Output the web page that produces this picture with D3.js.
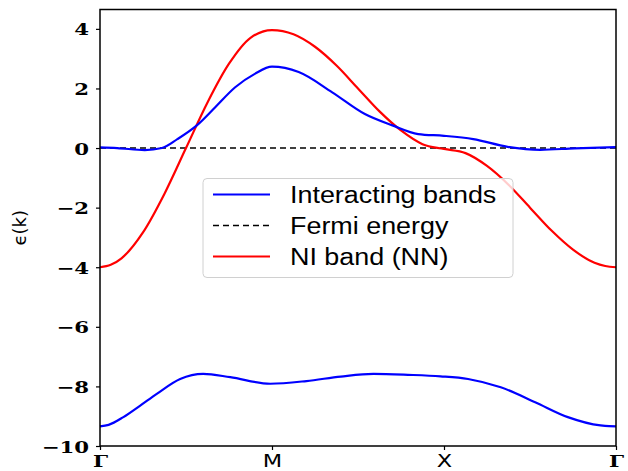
<!DOCTYPE html>
<html lang="en">
<head>
<meta charset="UTF-8">
<title>Band structure</title>
<style>
    body { margin: 0; background: #fff; }
    svg { display: block; }
    .tickLbl { font-family: "DejaVu Serif", serif; font-weight: bold; font-size: 17px; fill: #000; }
    .symLbl { font-family: "DejaVu Sans", sans-serif; font-size: 18px; fill: #000; }
    .legendTxt { font-family: "Liberation Sans", Arial, sans-serif; font-size: 23px; fill: #000; }
    .yTitle { font-family: "DejaVu Sans", sans-serif; font-size: 18px; fill: #000; }
</style>
<script src="https://cdn.jsdelivr.net/npm/d3@7"></script>
</head>
<body>
<script>
    // k-path position (0 = Γ, 1 = M, 2 = X, 3 = Γ) and energies
    const kUpper = [0, 0.1, 0.26, 0.36, 0.45, 0.563, 0.67, 0.786, 0.9, 1.0, 1.155, 1.35, 1.54, 1.70, 1.85, 2.0, 2.17, 2.37, 2.56, 2.76, 3.0];
    const eUpper = [0.02, 0.0, -0.07, 0.0, 0.3, 0.76, 1.37, 2.04, 2.49, 2.73, 2.55, 1.87, 1.14, 0.76, 0.47, 0.41, 0.3, 0.04, -0.06, -0.01, 0.03];

    const kLower = [0, 0.05, 0.136, 0.23, 0.33, 0.466, 0.60, 0.757, 0.99, 1.20, 1.40, 1.59, 1.79, 1.98, 2.14, 2.33, 2.53, 2.72, 2.91, 2.96, 3.0];
    const eLower = [-9.34, -9.29, -9.03, -8.66, -8.25, -7.75, -7.58, -7.69, -7.91, -7.82, -7.67, -7.58, -7.61, -7.66, -7.75, -8.03, -8.53, -9.03, -9.31, -9.335, -9.34];

    const kNI = [0, 0.0625, 0.125, 0.25, 0.375, 0.5, 0.625, 0.75, 0.875, 1.0, 1.125, 1.25, 1.375, 1.5, 1.625, 1.75, 1.875, 2.0, 2.125, 2.25, 2.375, 2.5, 2.625, 2.75, 2.875, 2.9375, 3.0];
    const eNI = [-4.0, -3.92, -3.70, -2.83, -1.53, 0.0, 1.53, 2.83, 3.70, 3.96, 3.82, 3.40, 2.77, 2.0, 1.23, 0.59, 0.13, -0.03, -0.17, -0.60, -1.23, -2.0, -2.77, -3.41, -3.85, -3.96, -4.0];

    const fermiLevel = 0;
    const symPoints = [0, 1, 2, 3];
    const symLabels = ["Γ", "M", "X", "Γ"];
    const yTicks = [-10, -8, -6, -4, -2, 0, 2, 4];
    const legendItems = [
        {title: "Interacting bands", color: "#0000ff", dash: null},
        {title: "Fermi energy", color: "#000000", dash: "6,4"},
        {title: "NI band (NN)", color: "#ff0000", dash: null}
    ];

    const width = 628, height = 471;
    const margins = {top: 9.5, right: 12, bottom: 25, left: 100};
    const TEXT_SX = 1.25; // glyphs in the picture are stretched sideways

    const svg = d3.select("body").append("svg")
        .attr("width", width).attr("height", height);

    const x = d3.scaleLinear().domain([0, 3]).range([margins.left, width - margins.right]);
    const y = d3.scaleLinear().domain([-10, 4.65]).range([height - margins.bottom, margins.top]);

    const line = d3.line()
        .x(d => x(d[0]))
        .y(d => y(d[1]))
        .curve(d3.curveMonotoneX);

    const plot = svg.append("g");

    // Fermi level
    plot.append("line")
        .attr("x1", x(0)).attr("x2", x(3))
        .attr("y1", y(fermiLevel)).attr("y2", y(fermiLevel))
        .attr("stroke", "#000").attr("stroke-width", 1.5)
        .attr("stroke-dasharray", "6,4");

    // bands
    plot.append("path").datum(d3.zip(kNI, eNI))
        .attr("d", line).attr("fill", "none")
        .attr("stroke", "#ff0000").attr("stroke-width", 2.2);
    plot.append("path").datum(d3.zip(kUpper, eUpper))
        .attr("d", line).attr("fill", "none")
        .attr("stroke", "#0000ff").attr("stroke-width", 2.2);
    plot.append("path").datum(d3.zip(kLower, eLower))
        .attr("d", line).attr("fill", "none")
        .attr("stroke", "#0000ff").attr("stroke-width", 2.2);

    // frame
    svg.append("rect")
        .attr("x", margins.left).attr("y", margins.top)
        .attr("width", width - margins.left - margins.right)
        .attr("height", height - margins.top - margins.bottom)
        .attr("fill", "none").attr("stroke", "#000").attr("stroke-width", 1.5);

    // y axis
    const yAxis = svg.append("g")
        .attr("transform", `translate(${margins.left},0)`)
        .call(d3.axisLeft(y).tickValues(yTicks).tickSize(4).tickFormat(""));
    yAxis.select(".domain").remove();
    yAxis.selectAll(".tick line").attr("stroke", "#000").attr("stroke-width", 1.2);
    yAxis.selectAll(".tick").append("text")
        .attr("class", "tickLbl")
        .attr("text-anchor", "end")
        .attr("transform", `translate(-11,6) scale(${TEXT_SX},1)`)
        .text(d => d < 0 ? "\u2212" + Math.abs(d) : d);

    // x axis
    const xAxis = svg.append("g")
        .attr("transform", `translate(0,${height - margins.bottom})`)
        .call(d3.axisBottom(x).tickValues(symPoints).tickSize(4).tickFormat(""));
    xAxis.select(".domain").remove();
    xAxis.selectAll(".tick line").attr("stroke", "#000").attr("stroke-width", 1.2);
    xAxis.selectAll(".tick").append("text")
        .attr("class", (d, i) => symLabels[i] === "Γ" ? "tickLbl" : "symLbl")
        .attr("text-anchor", "middle")
        .attr("transform", `translate(0,21) scale(${TEXT_SX},1)`)
        .text((d, i) => symLabels[i]);

    // y title
    svg.append("text")
        .attr("class", "yTitle")
        .attr("text-anchor", "middle")
        .attr("transform", `translate(26,${(margins.top + height - margins.bottom) / 2}) rotate(-90)`)
        .text("\u03f5(k)");

    // legend
    const legend = svg.append("g").attr("transform", "translate(203,178.5)");
    legend.append("rect")
        .attr("width", 310).attr("height", 99).attr("rx", 4)
        .attr("fill", "#fff").attr("fill-opacity", 0.8)
        .attr("stroke", "#d0d0d0").attr("stroke-width", 1);
    const rows = legend.selectAll(".row").data(legendItems).enter()
        .append("g")
        .attr("transform", (d, i) => `translate(0,${16 + i * 31})`);
    rows.append("line")
        .attr("x1", 10).attr("x2", 67)
        .attr("stroke", d => d.color)
        .attr("stroke-width", d => d.dash ? 1.5 : 2.2)
        .attr("stroke-dasharray", d => d.dash);
    rows.append("text")
        .attr("class", "legendTxt")
        .attr("transform", `translate(87,8) scale(1.17,1)`)
        .text(d => d.title);
</script>
</body>
</html>
